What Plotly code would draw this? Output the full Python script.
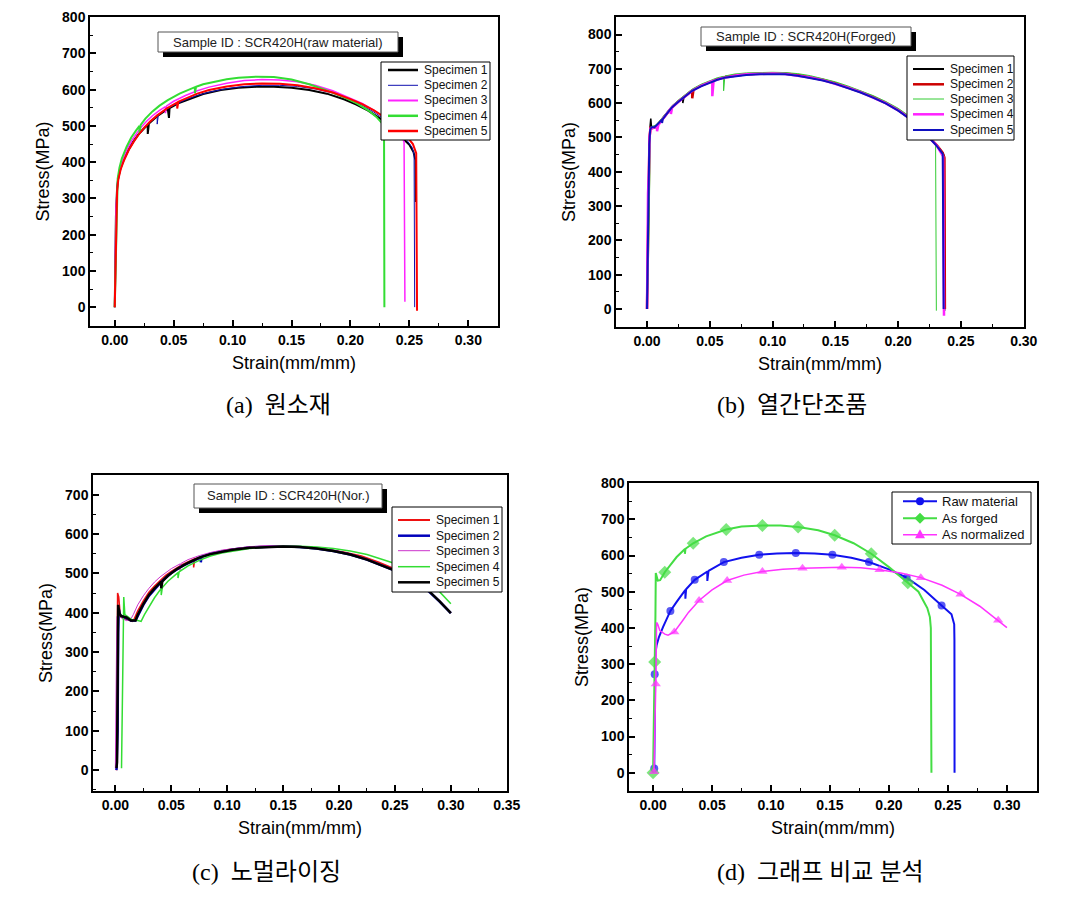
import plotly.graph_objects as go

W, H = 1081, 904

# ---------------- (a) raw material ----------------
a_s1_x = [0.0, 0.0005, 0.001, 0.002, 0.003, 0.005, 0.008, 0.012, 0.016, 0.02, 0.025, 0.028, 0.028, 0.029, 0.036, 0.045, 0.046, 0.0465,
          0.055, 0.065, 0.075, 0.09, 0.105, 0.12, 0.135, 0.15, 0.165, 0.18, 0.195, 0.205, 0.215, 0.225, 0.235, 0.243, 0.25, 0.2535, 0.2552, 0.2555]
a_s1_y = [0, 120, 250, 330, 357, 384, 409, 436, 458, 476, 495, 504, 478, 507, 527, 547, 522, 549,
          564, 577, 588, 599, 605, 608, 608, 605, 599, 589, 573, 559, 542, 521, 496, 470, 448, 428, 405, 290]
a_s2_x = [0.0, 0.0008, 0.0015, 0.0025, 0.004, 0.006, 0.01, 0.014, 0.018, 0.022, 0.027, 0.032, 0.036, 0.036, 0.037, 0.042, 0.05, 0.06,
          0.07, 0.08, 0.095, 0.11, 0.125, 0.14, 0.155, 0.17, 0.185, 0.2, 0.21, 0.22, 0.23, 0.24, 0.248, 0.2525, 0.254, 0.2545]
a_s2_y = [0, 150, 270, 340, 368, 393, 425, 450, 469, 486, 503, 518, 528, 505, 530, 542, 557, 572,
          584, 593, 603, 609, 612, 612, 609, 602, 591, 572, 557, 538, 515, 487, 460, 440, 420, 0]
a_s3_x = [0.0, 0.0005, 0.001, 0.0025, 0.004, 0.006, 0.01, 0.014, 0.018, 0.022, 0.027, 0.032, 0.038, 0.043, 0.043, 0.044, 0.05, 0.06,
          0.07, 0.08, 0.095, 0.11, 0.125, 0.14, 0.155, 0.17, 0.185, 0.2, 0.21, 0.22, 0.23, 0.238, 0.243, 0.2455, 0.2462]
a_s3_y = [0, 150, 270, 345, 375, 400, 432, 458, 478, 495, 513, 528, 543, 553, 535, 555, 568, 584,
          597, 607, 618, 625, 628, 627, 622, 612, 597, 577, 562, 543, 520, 498, 478, 455, 15]
a_s4_x = [0.0, 0.0008, 0.0015, 0.0025, 0.004, 0.006, 0.01, 0.014, 0.018, 0.021, 0.021, 0.022, 0.026, 0.032, 0.038, 0.045, 0.055, 0.065,
          0.068, 0.068, 0.069, 0.075, 0.085, 0.095, 0.105, 0.12, 0.135, 0.15, 0.165, 0.18, 0.195, 0.205, 0.215, 0.222, 0.2275, 0.2285, 0.2288]
a_s4_y = [0, 150, 245, 355, 385, 410, 442, 468, 487, 500, 478, 503, 520, 540, 556, 571, 589, 603,
          607, 590, 608, 615, 623, 629, 633, 636, 635, 628, 615, 598, 578, 563, 543, 525, 505, 485, 0]
a_s5_x = [0.0, 0.0005, 0.0012, 0.002, 0.003, 0.005, 0.008, 0.012, 0.016, 0.02, 0.025, 0.03, 0.036, 0.045, 0.053, 0.053, 0.054, 0.06,
          0.07, 0.08, 0.095, 0.11, 0.125, 0.14, 0.155, 0.17, 0.185, 0.2, 0.21, 0.22, 0.23, 0.24, 0.248, 0.253, 0.2558, 0.2565]
a_s5_y = [0, 100, 220, 320, 352, 380, 406, 434, 456, 475, 495, 512, 529, 550, 565, 548, 567, 576,
          589, 599, 609, 615, 617, 616, 612, 604, 592, 574, 560, 543, 522, 496, 470, 450, 425, -10]

# ---------------- (b) forged ----------------
b_s1_x = [0.0, 0.0005, 0.001, 0.0015, 0.002, 0.0025, 0.003, 0.0035, 0.005, 0.007, 0.01, 0.015, 0.02, 0.025, 0.0285, 0.0285, 0.0295,
          0.036, 0.043, 0.05, 0.056, 0.063, 0.07, 0.079, 0.09, 0.1, 0.11, 0.12, 0.13, 0.14, 0.15, 0.16, 0.17, 0.18, 0.19, 0.2,
          0.207, 0.214, 0.22, 0.226, 0.231, 0.235, 0.2368, 0.237]
b_s1_y = [0, 80, 250, 420, 520, 535, 555, 533, 530, 533, 545, 568, 590, 606, 615, 600, 618,
          638, 651, 662, 670, 677, 681, 684, 686, 687, 686, 682, 676, 668, 658, 646, 633, 618, 601, 580,
          562, 541, 520, 496, 476, 458, 445, -5]
b_s2_x = [0.0, 0.0008, 0.0015, 0.002, 0.0028, 0.004, 0.007, 0.01, 0.015, 0.02, 0.025, 0.03, 0.036, 0.036, 0.037, 0.043, 0.05,
          0.056, 0.063, 0.07, 0.079, 0.09, 0.1, 0.11, 0.12, 0.13, 0.14, 0.15, 0.16, 0.17, 0.18, 0.19, 0.2, 0.207, 0.214, 0.22,
          0.226, 0.231, 0.2355, 0.2368, 0.2372]
b_s2_y = [0, 150, 380, 500, 528, 527, 530, 543, 566, 588, 605, 620, 637, 614, 639, 651, 662,
          670, 677, 681, 684, 686, 687, 686, 682, 676, 668, 658, 646, 633, 618, 601, 580, 562, 541, 520,
          496, 476, 455, 440, 0]
b_s3_x = [0.0, 0.001, 0.0018, 0.0022, 0.0028, 0.004, 0.007, 0.01, 0.015, 0.02, 0.025, 0.03, 0.036, 0.043, 0.05, 0.056, 0.061,
          0.061, 0.062, 0.07, 0.079, 0.09, 0.1, 0.11, 0.12, 0.13, 0.14, 0.15, 0.16, 0.17, 0.18, 0.19, 0.2, 0.207, 0.214, 0.22,
          0.226, 0.2298, 0.2304]
b_s3_y = [0, 100, 280, 480, 530, 532, 536, 548, 571, 593, 609, 624, 641, 655, 666, 674, 678,
          636, 679, 685, 688, 690, 690, 689, 686, 680, 672, 662, 650, 637, 622, 605, 585, 567, 547, 526,
          503, 482, -5]
b_s4_x = [0.0, 0.0003, 0.0008, 0.0015, 0.002, 0.0028, 0.005, 0.008, 0.008, 0.009, 0.012, 0.016, 0.019, 0.019, 0.02, 0.025,
          0.03, 0.036, 0.043, 0.052, 0.052, 0.053, 0.058, 0.065, 0.072, 0.08, 0.09, 0.1, 0.11, 0.12, 0.13, 0.14, 0.15, 0.16,
          0.17, 0.18, 0.19, 0.2, 0.207, 0.214, 0.22, 0.226, 0.231, 0.2358, 0.2365]
b_s4_y = [0, 320, 336, 400, 500, 526, 528, 533, 518, 536, 550, 572, 585, 568, 588, 604,
          619, 636, 650, 664, 620, 665, 671, 677, 681, 684, 686, 686, 685, 681, 675, 667, 657, 645,
          632, 617, 600, 579, 561, 540, 519, 495, 475, 445, -20]
b_s5_x = [0.0, 0.0002, 0.001, 0.0018, 0.0025, 0.0035, 0.006, 0.009, 0.012, 0.012, 0.0125, 0.016, 0.02, 0.025, 0.03, 0.036,
          0.043, 0.05, 0.056, 0.063, 0.07, 0.079, 0.09, 0.1, 0.11, 0.12, 0.13, 0.14, 0.15, 0.16, 0.17, 0.18, 0.19, 0.2, 0.207,
          0.214, 0.22, 0.226, 0.231, 0.2355, 0.2362]
b_s5_y = [0, 75, 290, 480, 522, 530, 530, 540, 552, 542, 553, 570, 588, 604, 619, 636,
          649, 660, 668, 675, 679, 682, 684, 685, 684, 680, 674, 666, 656, 644, 631, 616, 599, 578, 560,
          539, 518, 494, 474, 452, 0]

# ---------------- (c) normalized ----------------
c_s1_x = [0.001, 0.0015, 0.002, 0.003, 0.0045, 0.008, 0.012, 0.015, 0.017, 0.02, 0.025, 0.03, 0.035, 0.04, 0.045, 0.05, 0.06,
          0.07, 0.07, 0.071, 0.08, 0.09, 0.1, 0.115, 0.13, 0.145, 0.16, 0.175, 0.19, 0.205, 0.22, 0.235, 0.25, 0.26, 0.27, 0.28,
          0.29, 0.3]
c_s1_y = [0, 200, 450, 440, 390, 385, 380, 378, 385, 405, 430, 452, 468, 482, 495, 505, 523,
          536, 515, 537, 546, 554, 560, 565, 568, 569, 569, 566, 561, 554, 544, 529, 511, 496, 477, 456,
          429, 400]
c_s2_x = [0.001, 0.002, 0.0025, 0.003, 0.004, 0.006, 0.01, 0.014, 0.018, 0.021, 0.025, 0.03, 0.035, 0.04, 0.045, 0.05, 0.06,
          0.07, 0.0764, 0.0764, 0.077, 0.085, 0.095, 0.105, 0.12, 0.135, 0.15, 0.165, 0.18, 0.195, 0.21, 0.225, 0.24, 0.25, 0.26,
          0.27, 0.28, 0.29, 0.3]
c_s2_y = [0, 100, 350, 410, 395, 390, 386, 380, 380, 398, 420, 443, 460, 475, 489, 501, 519,
          533, 541, 528, 542, 550, 556, 561, 566, 568, 569, 567, 563, 557, 548, 535, 519, 507, 493,
          475, 455, 428, 399]
c_s3_x = [0.0, 0.0003, 0.001, 0.0015, 0.003, 0.006, 0.01, 0.014, 0.016, 0.02, 0.025, 0.03, 0.035, 0.04, 0.045, 0.05, 0.0577,
          0.0577, 0.0585, 0.065, 0.075, 0.085, 0.095, 0.105, 0.12, 0.135, 0.15, 0.165, 0.18, 0.195, 0.21, 0.225, 0.24, 0.25,
          0.26, 0.27, 0.28, 0.29, 0.3]
c_s3_y = [5, 180, 300, 390, 395, 385, 380, 385, 395, 420, 443, 462, 478, 491, 502, 512, 524,
          508, 525, 535, 545, 553, 559, 563, 568, 570, 570, 568, 564, 558, 549, 536, 520, 508,
          494, 476, 456, 429, 400]
c_s4_x = [0.0055, 0.006, 0.0065, 0.007, 0.0075, 0.0085, 0.011, 0.015, 0.02, 0.023, 0.026, 0.03, 0.035, 0.041, 0.041, 0.042,
          0.047, 0.056, 0.056, 0.057, 0.065, 0.075, 0.085, 0.095, 0.105, 0.12, 0.135, 0.15, 0.165, 0.18, 0.195, 0.21, 0.225,
          0.24, 0.25, 0.26, 0.27, 0.28, 0.29, 0.3]
c_s4_y = [5, 200, 320, 330, 440, 395, 390, 382, 380, 378, 395, 415, 438, 462, 445, 464,
          480, 502, 488, 504, 519, 533, 544, 552, 557, 563, 567, 569, 569, 567, 563, 557, 548,
          535, 525, 512, 496, 477, 453, 423]
c_s5_x = [0.001, 0.0015, 0.002, 0.0025, 0.0035, 0.005, 0.01, 0.014, 0.018, 0.02, 0.025, 0.03, 0.035, 0.041, 0.041, 0.042,
          0.047, 0.055, 0.065, 0.075, 0.085, 0.095, 0.105, 0.12, 0.135, 0.15, 0.165, 0.18, 0.195, 0.21, 0.225, 0.24, 0.25,
          0.26, 0.27, 0.28, 0.29, 0.3]
c_s5_y = [5, 20, 200, 420, 400, 392, 388, 380, 380, 395, 422, 445, 462, 479, 462, 480,
          494, 511, 527, 540, 549, 555, 560, 565, 567, 568, 567, 563, 557, 548, 535, 519, 507,
          494, 476, 456, 429, 399]

# ---------------- (d) comparison ----------------
d_raw_x = [0.001, 0.0014, 0.002, 0.003, 0.005, 0.0085, 0.0147, 0.02, 0.0274, 0.0274, 0.028, 0.0353, 0.04, 0.046, 0.046, 0.047,
           0.06, 0.075, 0.09, 0.105, 0.121, 0.137, 0.152, 0.168, 0.183, 0.2, 0.215, 0.23, 0.2446, 0.25, 0.253, 0.2553, 0.2555, 0.2556]
d_raw_y = [12, 272, 330, 352, 375, 403, 447, 472, 505, 481, 507, 533, 543, 556, 530, 558,
           582, 594, 602, 606, 607, 606, 602, 594, 582, 562, 539, 505, 462, 447, 438, 410, 366, 0]
d_raw_marks = [0, 1, 6, 11, 16, 18, 20, 22, 24, 26, 28]

d_forged_x = [0.0, 0.0005, 0.001, 0.0014, 0.002, 0.0023, 0.004, 0.006, 0.0099, 0.015, 0.02, 0.027, 0.027, 0.0275, 0.034, 0.045,
              0.062, 0.075, 0.0927, 0.108, 0.123, 0.14, 0.154, 0.17, 0.185, 0.2, 0.216, 0.225, 0.229, 0.2325, 0.2347, 0.2355, 0.236]
d_forged_y = [0, 80, 200, 306, 430, 552, 531, 532, 554, 575, 596, 618, 605, 619, 634, 653,
              672, 680, 683, 683, 679, 670, 656, 634, 605, 568, 525, 500, 476, 455, 430, 400, 0]
d_forged_marks = [0, 3, 8, 14, 16, 18, 20, 22, 24, 26]

d_norm_x = [0.0008, 0.0015, 0.0023, 0.003, 0.004, 0.0057, 0.01, 0.0127, 0.018, 0.025, 0.03, 0.039, 0.05, 0.0628, 0.077, 0.0927,
            0.11, 0.1267, 0.143, 0.16, 0.176, 0.192, 0.21, 0.227, 0.245, 0.2607, 0.277, 0.2926, 0.3]
d_norm_y = [3, 100, 245, 415, 410, 393, 383, 380, 389, 420, 443, 476, 505, 531, 546, 556,
            562, 565, 567, 568, 566, 561, 552, 539, 518, 493, 460, 421, 401]
d_norm_marks = [0, 2, 8, 11, 13, 15, 17, 19, 21, 23, 25, 27]

specimen_names = ["Specimen 1", "Specimen 2", "Specimen 3", "Specimen 4", "Specimen 5"]
compare_names = ["Raw material", "As forged", "As normalized"]
sample_ids = ["Sample ID : SCR420H(raw material)", "Sample ID : SCR420H(Forged)", "Sample ID : SCR420H(Nor.)"]
captions = ["(a)\u00a0 원소재", "(b)\u00a0 열간단조품", "(c)\u00a0 노멀라이징", "(d)\u00a0 그래프 비교 분석"]

SANS = "Arial, Liberation Sans, sans-serif"
CAP = "Times New Roman, Liberation Serif, Noto Sans CJK KR, serif"


def fx(p):
    return p / W


def fy(p):
    return 1 - p / H


fig = go.Figure()


def curve(x, y, color, width, ax, marks=None, symbol=None, msize=8):
    tr = go.Scatter(x=x, y=y, mode="lines", line=dict(color=color, width=width),
                    xaxis="x" + ax, yaxis="y" + ax, showlegend=False, hoverinfo="skip")
    if marks is not None:
        tr.mode = "lines+markers"
        tr.marker = dict(symbol=symbol, color=color, line=dict(width=0),
                         size=[msize if i in marks else 0 for i in range(len(x))])
    fig.add_trace(tr)


# (a)
a_colors = ["#000000", "#1010b0", "#ff22ff", "#33dd33", "#ff0000"]
a_widths = [2, 1, 1.5, 2, 2]
for (x, y), c, w in zip([(a_s1_x, a_s1_y), (a_s2_x, a_s2_y), (a_s3_x, a_s3_y), (a_s4_x, a_s4_y), (a_s5_x, a_s5_y)],
                        a_colors, a_widths):
    curve(x, y, c, w, "")

# (b)
b_colors = ["#000000", "#cc0000", "#33cc33", "#ff22ff", "#1010c0"]
b_widths = [1.5, 2.5, 1, 2.5, 2]
for (x, y), c, w in zip([(b_s1_x, b_s1_y), (b_s2_x, b_s2_y), (b_s3_x, b_s3_y), (b_s4_x, b_s4_y), (b_s5_x, b_s5_y)],
                        b_colors, b_widths):
    curve(x, y, c, w, "2")

# (c)
c_colors = ["#ee1111", "#0000bb", "#cc33cc", "#33dd33", "#000000"]
c_widths = [1.5, 2.5, 1, 1.5, 2.5]
for (x, y), c, w in zip([(c_s1_x, c_s1_y), (c_s2_x, c_s2_y), (c_s3_x, c_s3_y), (c_s4_x, c_s4_y), (c_s5_x, c_s5_y)],
                        c_colors, c_widths):
    curve(x, y, c, w, "3")

# (d)
d_colors = ["#1111ee", "#44dd44", "#ff33ff"]
curve(d_raw_x, d_raw_y, d_colors[0], 2, "4", d_raw_marks, "circle", 8)
curve(d_forged_x, d_forged_y, d_colors[1], 2, "4", d_forged_marks, "diamond", 10)
curve(d_norm_x, d_norm_y, d_colors[2], 1.5, "4", d_norm_marks, "triangle-up", 9)


def xaxis(dom, anchor, rng):
    return dict(domain=dom, anchor=anchor, range=rng, showline=True, linecolor="black", linewidth=1.5, mirror=True,
                ticks="inside", ticklen=6, tickwidth=1.5, tickcolor="black", tick0=0, dtick=0.05, tickformat=".2f",
                showgrid=False, zeroline=False, automargin=False,
                tickfont=dict(family=SANS, size=14, color="black", weight="bold"),
                minor=dict(ticks="inside", ticklen=3, tickwidth=1, tickcolor="black", dtick=0.025, tick0=0, showgrid=False),
                title=dict(text="Strain(mm/mm)", font=dict(family=SANS, size=18, color="black"), standoff=10))


def yaxis(dom, anchor, rng):
    return dict(domain=dom, anchor=anchor, range=rng, showline=True, linecolor="black", linewidth=1.5, mirror=True,
                ticks="inside", ticklen=6, tickwidth=1.5, tickcolor="black", tick0=0, dtick=100,
                showgrid=False, zeroline=False, automargin=False,
                tickfont=dict(family=SANS, size=14, color="black", weight="bold"),
                minor=dict(ticks="inside", ticklen=3, tickwidth=1, tickcolor="black", dtick=50, tick0=0, showgrid=False),
                title=dict(text="Stress(MPa)", font=dict(family=SANS, size=18, color="black"), standoff=8))


shapes = []
annotations = []


def id_box(x0, y0, x1, y1, text):
    shapes.append(dict(type="rect", xref="paper", yref="paper", layer="above",
                       x0=fx(x0 + 5), x1=fx(x1 + 5), y0=fy(y1 + 5), y1=fy(y0 + 5),
                       fillcolor="black", line=dict(width=0)))
    shapes.append(dict(type="rect", xref="paper", yref="paper", layer="above",
                       x0=fx(x0), x1=fx(x1), y0=fy(y1), y1=fy(y0),
                       fillcolor="white", line=dict(color="#555555", width=1)))
    annotations.append(dict(text=text, xref="paper", yref="paper", x=fx((x0 + x1) / 2), y=fy((y0 + y1) / 2),
                            showarrow=False, xanchor="center", yanchor="middle",
                            font=dict(family=SANS, size=13, color="#222222")))


def legend_box(box, lx0, lx1, tx, ys, names, colors, widths, symbols=None, fsize=12):
    x0, y0, x1, y1 = box
    shapes.append(dict(type="rect", xref="paper", yref="paper", layer="above",
                       x0=fx(x0), x1=fx(x1), y0=fy(y1), y1=fy(y0),
                       fillcolor="white", line=dict(color="black", width=1)))
    for i, (yy, name, c, w) in enumerate(zip(ys, names, colors, widths)):
        shapes.append(dict(type="line", xref="paper", yref="paper", layer="above",
                           x0=fx(lx0), x1=fx(lx1), y0=fy(yy), y1=fy(yy), line=dict(color=c, width=w)))
        if symbols:
            cx = (lx0 + lx1) / 2
            s = symbols[i]
            if s == "circle":
                shapes.append(dict(type="circle", xref="paper", yref="paper", layer="above",
                                   x0=fx(cx - 4), x1=fx(cx + 4), y0=fy(yy + 4), y1=fy(yy - 4),
                                   fillcolor=c, line=dict(width=0)))
            elif s == "diamond":
                pts = [(cx, yy - 5.5), (cx + 5.5, yy), (cx, yy + 5.5), (cx - 5.5, yy)]
                path = "M " + " L ".join(f"{fx(a):.5f},{fy(b):.5f}" for a, b in pts) + " Z"
                shapes.append(dict(type="path", xref="paper", yref="paper", layer="above", path=path,
                                   fillcolor=c, line=dict(width=0)))
            else:
                pts = [(cx, yy - 5.5), (cx + 5, yy + 3.5), (cx - 5, yy + 3.5)]
                path = "M " + " L ".join(f"{fx(a):.5f},{fy(b):.5f}" for a, b in pts) + " Z"
                shapes.append(dict(type="path", xref="paper", yref="paper", layer="above", path=path,
                                   fillcolor=c, line=dict(width=0)))
        annotations.append(dict(text=name, xref="paper", yref="paper", x=fx(tx), y=fy(yy),
                                showarrow=False, xanchor="left", yanchor="middle",
                                font=dict(family=SANS, size=fsize, color="#111111")))


id_box(158, 32, 398, 52, sample_ids[0])
id_box(701, 27, 911, 46, sample_ids[1])
id_box(194, 484, 382, 508, sample_ids[2])

legend_box((381, 62, 490, 140), 388, 418, 422, [70, 85.3, 100.5, 115.8, 131], specimen_names, a_colors,
           [2.5, 1, 2, 2.5, 2.5])
legend_box((907, 56, 1014, 140), 913, 944, 948, [69, 84.3, 99, 114.3, 130], specimen_names, b_colors,
           [2, 2.5, 1, 2.5, 2])
legend_box((392, 507, 502, 592), 398, 430, 434, [520, 535.7, 550.7, 566.7, 582.3], specimen_names, c_colors,
           [2, 2.5, 1, 1.5, 2.5])
legend_box((892, 492, 1031, 544), 903, 937, 940, [501.3, 518.3, 534.7], compare_names, d_colors,
           [2, 2, 1.5], symbols=["circle", "diamond", "triangle"], fsize=13)

for text, cx, cy in zip(captions, [278, 792, 266, 820], [405, 405, 872, 872]):
    annotations.append(dict(text=text, xref="paper", yref="paper", x=fx(cx), y=fy(cy), showarrow=False,
                            xanchor="center", yanchor="middle", font=dict(family=CAP, size=24, color="black")))

fig.update_layout(
    width=W, height=H, margin=dict(l=0, r=0, t=0, b=0),
    paper_bgcolor="white", plot_bgcolor="white", showlegend=False,
    xaxis=xaxis([fx(90), fx(498)], "y", [-0.021, 0.3252]),
    yaxis=yaxis([fy(326), fy(17)], "x", [-52, 800.5]),
    xaxis2=xaxis([fx(616), fx(1024)], "y2", [-0.0247, 0.3002]),
    yaxis2=yaxis([fy(327), fy(17)], "x2", [-52.5, 851]),
    xaxis3=xaxis([fx(93), fx(507)], "y3", [-0.02, 0.3502]),
    yaxis3=yaxis([fy(791), fy(475)], "x3", [-53, 750]),
    xaxis4=xaxis([fx(629), fx(1037)], "y4", [-0.0204, 0.3255]),
    yaxis4=yaxis([fy(791), fy(483)], "x4", [-50.5, 800.5]),
    shapes=shapes, annotations=annotations,
)

# the page body has an 8px default margin; drop it so the figure sits at the window origin
fig.write_html("out.html", config={"displayModeBar": False},
               post_script="document.body.style.margin='0px';")
